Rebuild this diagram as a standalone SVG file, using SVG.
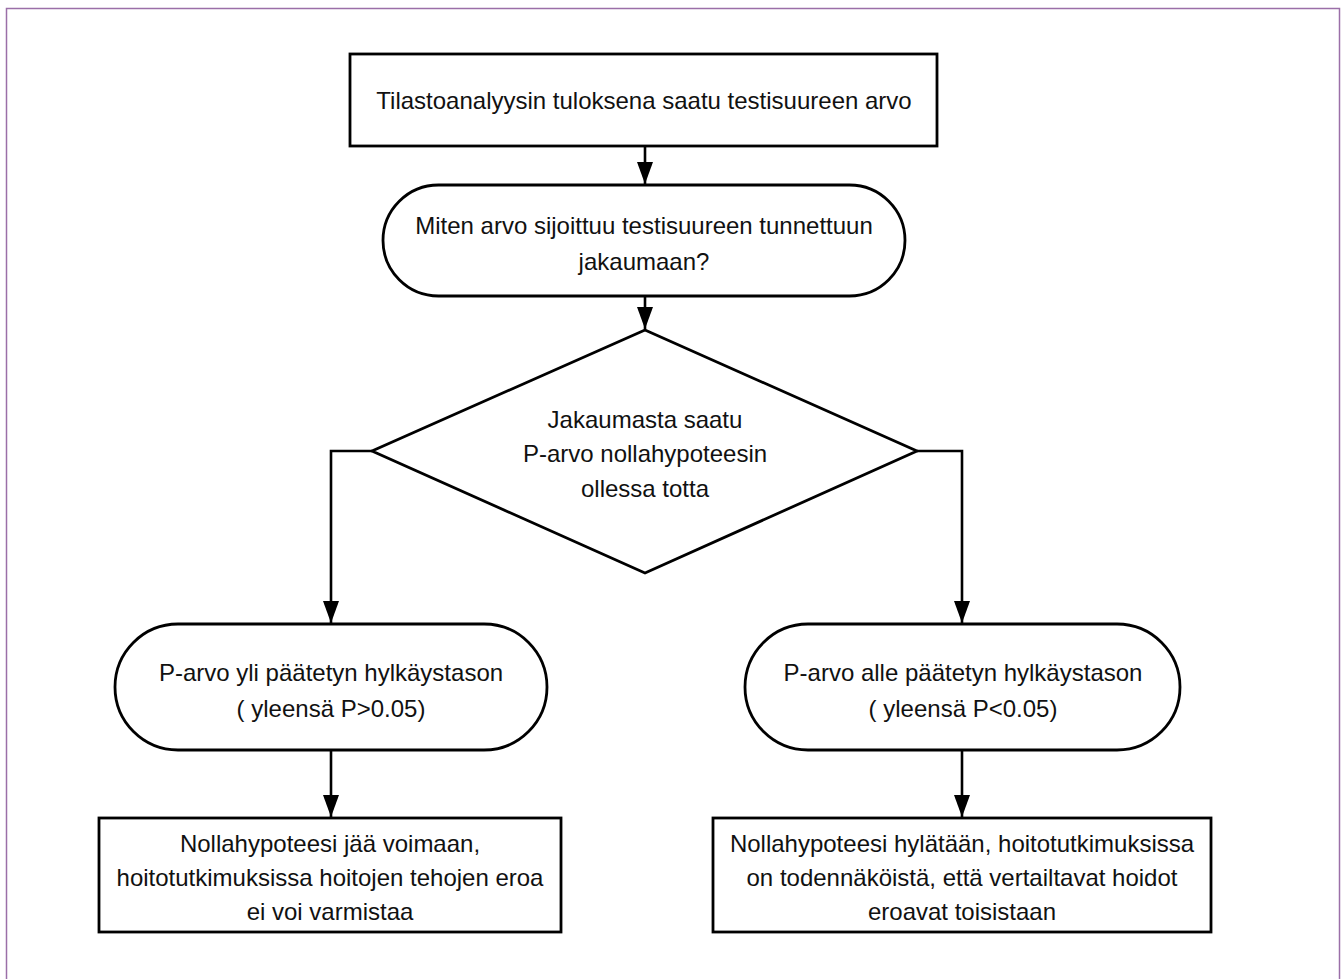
<svg xmlns="http://www.w3.org/2000/svg" width="1342" height="979" viewBox="0 0 1342 979">
<defs>
<marker id="ah" viewBox="0 0 22 16" refX="22" refY="8" markerWidth="22" markerHeight="16" markerUnits="userSpaceOnUse" orient="auto">
<path d="M0,0 L22,8 L0,16 Z" fill="#000"/>
</marker>
<style>
.s{fill:#fff;stroke:#000;stroke-width:2.8}
.c{fill:none;stroke:#000;stroke-width:2.6}
text{font-family:"Liberation Sans",Arial,sans-serif;font-size:24px;fill:#111;text-anchor:middle}
</style>
</defs>
<rect x="0" y="0" width="1342" height="979" fill="#fff"/>
<rect x="6.5" y="8.5" width="1333" height="980" fill="none" stroke="#9b6fa8" stroke-width="1.5"/>
<g id="connectors">
<path class="c" d="M645,146 V184" marker-end="url(#ah)"/>
<path class="c" d="M645,296 V329" marker-end="url(#ah)"/>
<path class="c" d="M372,451 H331 V623" marker-end="url(#ah)"/>
<path class="c" d="M917,451 H962 V623" marker-end="url(#ah)"/>
<path class="c" d="M331,750 V817" marker-end="url(#ah)"/>
<path class="c" d="M962,750 V817" marker-end="url(#ah)"/>
</g>
<g id="n1">
<rect class="s" x="350" y="54" width="587" height="92"/>
<text x="644" y="109">Tilastoanalyysin tuloksena saatu testisuureen arvo</text>
</g>
<g id="n2">
<rect class="s" x="383" y="185" width="522" height="111" rx="55.5" ry="55.5"/>
<text x="644" y="234">Miten arvo sijoittuu testisuureen tunnettuun</text>
<text x="644" y="270">jakaumaan?</text>
</g>
<g id="n3">
<polygon class="s" points="645,330 917,451 645,573 372,451"/>
<text x="645" y="428">Jakaumasta saatu</text>
<text x="645" y="462">P-arvo nollahypoteesin</text>
<text x="645" y="497">ollessa totta</text>
</g>
<g id="n4">
<rect class="s" x="115" y="624" width="432" height="126" rx="63" ry="63"/>
<text x="331" y="681">P-arvo yli päätetyn hylkäystason</text>
<text x="331" y="717">( yleensä P&gt;0.05)</text>
</g>
<g id="n5">
<rect class="s" x="745" y="624" width="435" height="126" rx="63" ry="63"/>
<text x="963" y="681">P-arvo alle päätetyn hylkäystason</text>
<text x="963" y="717">( yleensä P&lt;0.05)</text>
</g>
<g id="n6">
<rect class="s" x="99" y="818" width="462" height="114"/>
<text x="330" y="852">Nollahypoteesi jää voimaan,</text>
<text x="330" y="886">hoitotutkimuksissa hoitojen tehojen eroa</text>
<text x="330" y="920">ei voi varmistaa</text>
</g>
<g id="n7">
<rect class="s" x="713" y="818" width="498" height="114"/>
<text x="962" y="852">Nollahypoteesi hylätään, hoitotutkimuksissa</text>
<text x="962" y="886">on todennäköistä, että vertailtavat hoidot</text>
<text x="962" y="920">eroavat toisistaan</text>
</g>
</svg>
